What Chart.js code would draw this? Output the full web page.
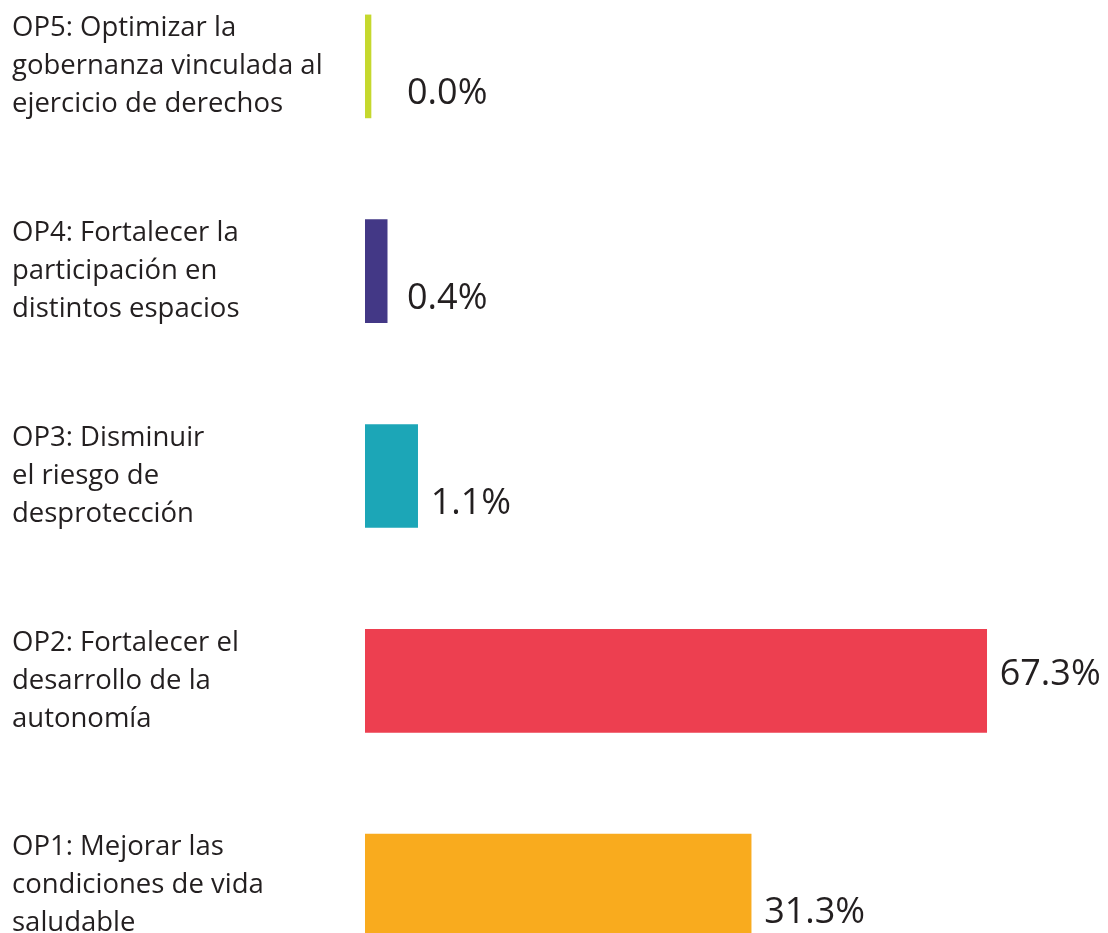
<!DOCTYPE html>
<html>
<head>
<meta charset="utf-8">
<script src="https://cdn.jsdelivr.net/npm/chart.js@4.4.1/dist/chart.umd.min.js"></script>
<style>
  html, body { margin: 0; padding: 0; background: #ffffff; overflow: hidden; width: 1108px; height: 933px; }
  #wrap { position: absolute; left: 0; top: -36px; width: 1108px; height: 1024px; }
</style>
</head>
<body>
<div id="wrap"><canvas id="c"></canvas></div>
<script>
// Categories, top to bottom
const categories = [
  ["OP5: Optimizar la", "gobernanza vinculada al", "ejercicio de derechos"],
  ["OP4: Fortalecer la", "participación en", "distintos espacios"],
  ["OP3: Disminuir", "el riesgo de", "desprotección"],
  ["OP2: Fortalecer el", "desarrollo de la", "autonomía"],
  ["OP1: Mejorar las", "condiciones de vida", "saludable"]
];
// Printed percentages
const percentages = [0.0, 0.4, 1.1, 67.3, 31.3];
// Bar lengths as drawn in the reference (in % units, scaled to OP2 = 67.3)
const barLengths = [0.65, 2.4, 5.7, 67.3, 41.8];
const barColors = ["#c5d82e", "#433886", "#1ca6b7", "#ed3f50", "#f9ab1e"];

const TEXT = "#231f20";

const valueLabels = {
  id: 'valueLabels',
  afterDatasetsDraw(chart) {
    const ctx = chart.ctx;
    const meta = chart.getDatasetMeta(0);
    const area = chart.chartArea;
    ctx.save();
    ctx.font = '36px "Open Sans"';
    ctx.fillStyle = TEXT;
    ctx.textAlign = 'left';
    ctx.textBaseline = 'alphabetic';
    meta.data.forEach((bar, i) => {
      const txt = percentages[i].toFixed(1) + '%';
      const x = Math.max(bar.x + 13, area.left + 42);
      const centered = percentages[i] === Math.max(...percentages);
      const y = centered ? bar.y + 4 : bar.y + bar.height / 2 - 14;
      ctx.fillText(txt, x, y);
    });
    ctx.restore();
  }
};

new Chart(document.getElementById('c'), {
  type: 'bar',
  data: {
    labels: categories,
    datasets: [{
      data: barLengths,
      backgroundColor: barColors,
      borderWidth: 0,
      barThickness: 103
    }]
  },
  options: {
    indexAxis: 'y',
    responsive: true,
    maintainAspectRatio: false,
    animation: false,
    layout: { padding: { left: 12, right: 4, top: 0, bottom: 0 } },
    plugins: { legend: { display: false }, tooltip: { enabled: false } },
    scales: {
      x: { display: false, min: 0, max: 80 },
      y: {
        grid: { display: false },
        border: { display: false },
        ticks: {
          crossAlign: 'far',
          padding: 0,
          color: TEXT,
          font: { family: '"Open Sans"', size: 27.5, lineHeight: 1.38 }
        },
        afterFit(scale) { scale.width = 353; scale.paddingTop = 0; scale.paddingBottom = 0; }
      }
    }
  },
  plugins: [valueLabels]
});
</script>
</body>
</html>
